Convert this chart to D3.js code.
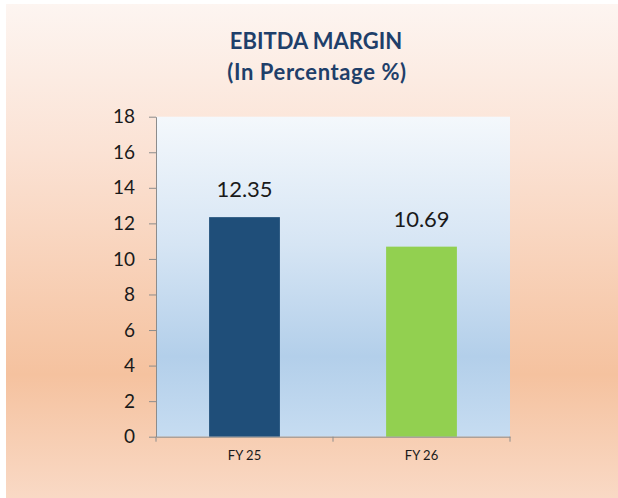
<!DOCTYPE html>
<html>
<head>
<meta charset="utf-8">
<script src="https://cdn.jsdelivr.net/npm/d3@7"></script>
<style>
html,body{margin:0;padding:0;background:#fff;}
svg{display:block;}
</style>
</head>
<body>
<svg id="chart" width="618" height="498"></svg>
<script>
const categories = ["FY 25", "FY 26"];
const values = [12.35, 10.69];
const valueLabels = ["12.35", "10.69"];
const barColors = ["#1f4e79", "#92d050"];
const yTicks = [0, 2, 4, 6, 8, 10, 12, 14, 16, 18];
const titleLines = ["EBITDA MARGIN", "(In Percentage %)"];

(function(){
const svg = d3.select("#chart");
const defs = svg.append("defs");

const bg = defs.append("linearGradient").attr("id","bg").attr("x1",0).attr("y1",0).attr("x2",0).attr("y2",1);
[["0%","#fdf5f1"],["30%","#fbe2d4"],["75%","#f5c29f"],["100%","#f9d9c5"]].forEach(s=>bg.append("stop").attr("offset",s[0]).attr("stop-color",s[1]));
const pg = defs.append("linearGradient").attr("id","pg").attr("x1",0).attr("y1",0).attr("x2",0).attr("y2",1);
[["0%","#f4f8fc"],["40%","#d6e5f4"],["75%","#b3cfea"],["100%","#c6dcf1"]].forEach(s=>pg.append("stop").attr("offset",s[0]).attr("stop-color",s[1]));

svg.append("rect").attr("x",6).attr("y",4).attr("width",612).attr("height",494).attr("fill","url(#bg)");

const pL = 156, pR = 510, pT = 116.7, pB = 436.7;

const x = d3.scaleBand().domain(categories).range([pL, pR]).paddingInner(0.6).paddingOuter(0.3);
const y = d3.scaleLinear().domain([0, 18]).range([pB, pT]);

svg.append("rect").attr("x",pL).attr("y",pT).attr("width",pR-pL).attr("height",pB-pT).attr("fill","url(#pg)");

// title
svg.append("text").attr("x",316).attr("y",49).attr("text-anchor","middle")
  .attr("font-family","Lato, 'Open Sans', sans-serif").attr("font-weight","bold").attr("font-size",22)
  .attr("fill","#1f3f6a").text(titleLines[0]);
svg.append("text").attr("x",317).attr("y",80).attr("text-anchor","middle")
  .attr("font-family","Lato, 'Open Sans', sans-serif").attr("font-weight","bold").attr("font-size",22)
  .attr("letter-spacing",0.6)
  .attr("fill","#1f3f6a").text(titleLines[1]);

// bars
svg.selectAll("rect.bar").data(values).join("rect").attr("class","bar")
  .attr("x",(d,i)=>x(categories[i])).attr("width",x.bandwidth())
  .attr("y",d=>y(d)).attr("height",d=>y(0)-y(d))
  .attr("fill",(d,i)=>barColors[i]);

// value labels
svg.selectAll("text.val").data(values).join("text").attr("class","val")
  .attr("x",(d,i)=>x(categories[i])+x.bandwidth()/2).attr("y",d=>y(d)-20)
  .attr("text-anchor","middle").attr("font-family","Lato, sans-serif").attr("font-size",22)
  .attr("fill","#1a1a1a").text((d,i)=>valueLabels[i]);

// y axis
const yAxis = svg.append("g").attr("transform",`translate(${pL},0)`)
  .call(d3.axisLeft(y).tickValues(yTicks).tickSize(7).tickPadding(14).tickSizeOuter(0));
yAxis.select(".domain").attr("stroke","#8c8c8c");
yAxis.selectAll(".tick line").attr("stroke","#8c8c8c");
yAxis.selectAll(".tick text").attr("font-family","Lato, sans-serif").attr("font-size",19).attr("fill","#1a1a1a");

// x axis
const xAxis = svg.append("g").attr("transform",`translate(0,${pB})`)
  .call(d3.axisBottom(x).tickSize(0).tickPadding(14).tickSizeOuter(0));
xAxis.select(".domain").attr("stroke","#8c8c8c");
xAxis.selectAll(".tick text").attr("font-family","Lato, sans-serif").attr("font-size",13).attr("fill","#1a1a1a");
const bounds = [pL, (pL+pR)/2, pR];
xAxis.selectAll("line.bt").data(bounds).join("line").attr("class","bt")
  .attr("x1",d=>d).attr("x2",d=>d).attr("y1",0).attr("y2",5).attr("stroke","#8c8c8c");
})();
</script>
</body>
</html>
